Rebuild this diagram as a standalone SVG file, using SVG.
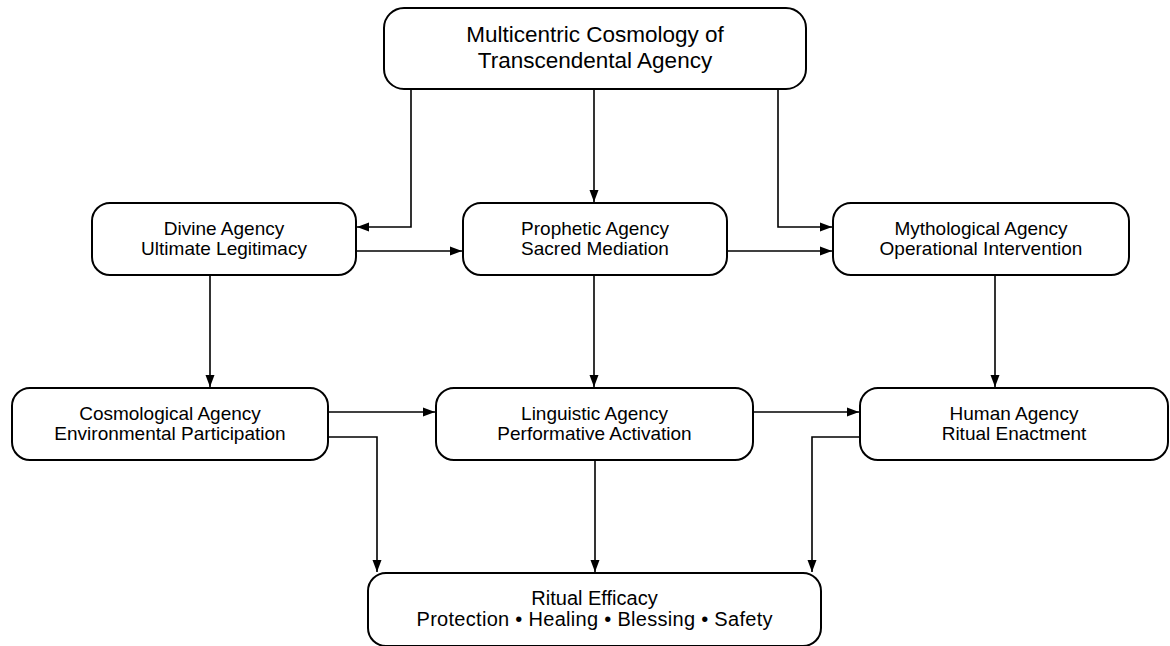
<svg xmlns="http://www.w3.org/2000/svg" width="1170" height="646" viewBox="0 0 1170 646">
<style>
.box{fill:#fff;stroke:#000;stroke-width:2}
.t{font-family:"Liberation Sans",Arial,sans-serif;font-size:19px;text-anchor:middle;fill:#000}
.tb{font-family:"Liberation Sans",Arial,sans-serif;font-size:20px;text-anchor:middle;fill:#000}
.tt{font-family:"Liberation Sans",Arial,sans-serif;font-size:22.5px;text-anchor:middle;fill:#000}
.c{fill:none;stroke:#000;stroke-width:1.6}
</style>
<defs>
<marker id="ah" viewBox="0 0 12 10" refX="12" refY="5" markerWidth="12" markerHeight="10" markerUnits="userSpaceOnUse" orient="auto">
<path d="M0,0.5 L12,5 L0,9.5 z" fill="#000"/>
</marker>
</defs>
<rect width="1170" height="646" fill="#fff"/>
<g id="connectors">
<path class="c" marker-end="url(#ah)" d="M411,89 V227 H357"/>
<path class="c" marker-end="url(#ah)" d="M594,89 V202"/>
<path class="c" marker-end="url(#ah)" d="M778,89 V227 H832"/>
<path class="c" marker-end="url(#ah)" d="M356,251 H462"/>
<path class="c" marker-end="url(#ah)" d="M727,251 H832"/>
<path class="c" marker-end="url(#ah)" d="M210,275 V387"/>
<path class="c" marker-end="url(#ah)" d="M594,275 V387"/>
<path class="c" marker-end="url(#ah)" d="M995,275 V387"/>
<path class="c" marker-end="url(#ah)" d="M328,412 H435"/>
<path class="c" marker-end="url(#ah)" d="M753,412 H859"/>
<path class="c" marker-end="url(#ah)" d="M328,437 H377 V572"/>
<path class="c" marker-end="url(#ah)" d="M595,460 V572"/>
<path class="c" marker-end="url(#ah)" d="M860,437 H812 V572"/>
</g>
<g id="top">
<rect class="box" x="384" y="8" width="422" height="81" rx="20"/>
<text class="tt" x="595" y="42">Multicentric Cosmology of</text>
<text class="tt" x="595" y="68">Transcendental Agency</text>
</g>
<g id="divine">
<rect class="box" x="92" y="203" width="264" height="72" rx="18"/>
<text class="t" x="224" y="235">Divine Agency</text>
<text class="t" x="224" y="255">Ultimate Legitimacy</text>
</g>
<g id="prophetic">
<rect class="box" x="463" y="203" width="264" height="72" rx="18"/>
<text class="t" x="595" y="235">Prophetic Agency</text>
<text class="t" x="595" y="255">Sacred Mediation</text>
</g>
<g id="mythological">
<rect class="box" x="833" y="203" width="296" height="72" rx="18"/>
<text class="t" x="981" y="235">Mythological Agency</text>
<text class="t" x="981" y="255">Operational Intervention</text>
</g>
<g id="cosmological">
<rect class="box" x="12" y="388" width="316" height="72" rx="18"/>
<text class="t" x="170" y="420">Cosmological Agency</text>
<text class="t" x="170" y="440">Environmental Participation</text>
</g>
<g id="linguistic">
<rect class="box" x="436" y="388" width="317" height="72" rx="18"/>
<text class="t" x="594.5" y="420">Linguistic Agency</text>
<text class="t" x="594.5" y="440">Performative Activation</text>
</g>
<g id="human">
<rect class="box" x="860" y="388" width="308" height="72" rx="18"/>
<text class="t" x="1014" y="420">Human Agency</text>
<text class="t" x="1014" y="440">Ritual Enactment</text>
</g>
<g id="ritual">
<rect class="box" x="368" y="573" width="453" height="73" rx="18"/>
<text class="tb" x="594.5" y="605">Ritual Efficacy</text>
<text class="tb" x="594.5" y="626" textLength="356" lengthAdjust="spacing">Protection • Healing • Blessing • Safety</text>
</g>
</svg>
